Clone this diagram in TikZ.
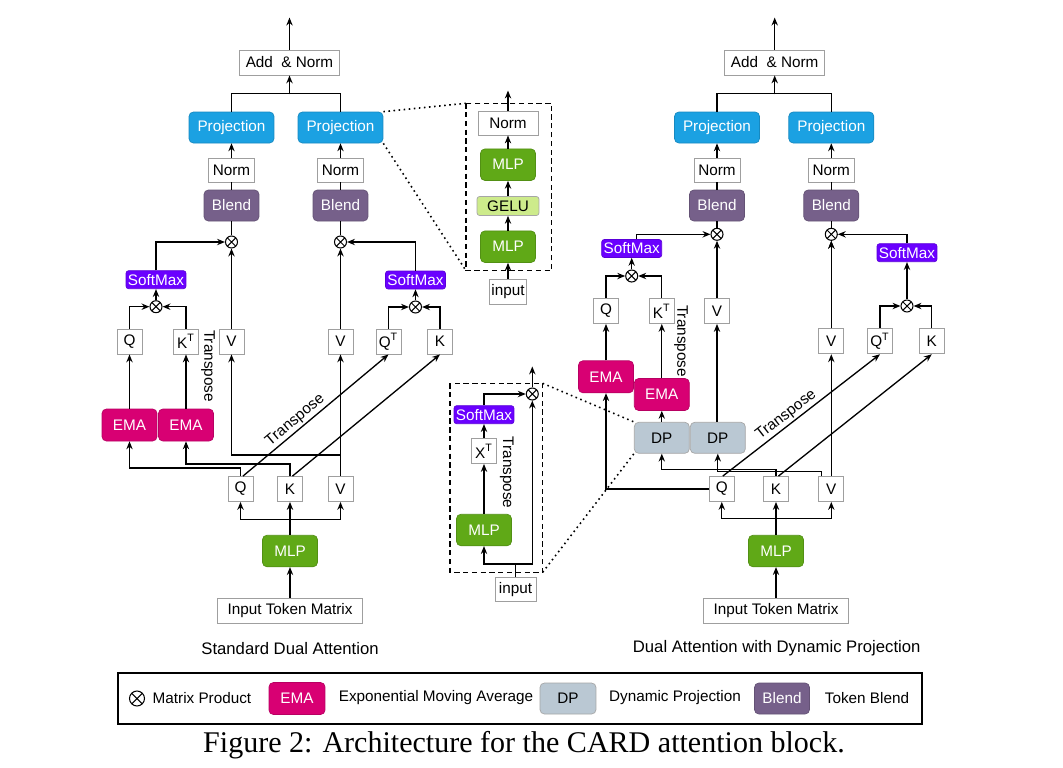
\documentclass[tikz,border=0pt]{standalone}
\usepackage{fontspec}
\setmainfont{Liberation Serif}
\setsansfont{Liberation Sans}
\usetikzlibrary{arrows.meta,shadows}
\definecolor{projblue}{HTML}{1BA1E2}
\definecolor{emapink}{HTML}{D80073}
\definecolor{smaxviolet}{HTML}{6A00FF}
\definecolor{mlpgreen}{HTML}{60A917}
\definecolor{blendmauve}{HTML}{76608A}
\definecolor{dpgrey}{HTML}{BAC8D3}
\definecolor{gelugreen}{HTML}{CDEB8B}
\newcommand{\diagfont}{\sffamily\fontsize{8.7}{10}\selectfont}
\tikzset{plainbox/.style={
  draw=gray!75,
  fill=white,
  line width=0.5pt,
  minimum width=0.5cm,
  minimum height=0.5cm,
  inner sep=0pt,
  font=\diagfont,
  },
  colbox/.style={
  rounded corners=2.5pt,
  line width=0.4pt,
  inner sep=0pt,
  minimum width=1.1cm,
  minimum height=0.62cm,
  text=white,
  font=\diagfont,
  },
  projbox/.style={colbox, fill=projblue, draw=projblue!85!black, minimum width=1.7cm},
  blendbox/.style={colbox, fill=blendmauve, draw=blendmauve!85!black},
  emabox/.style={colbox, fill=emapink, draw=emapink!85!black, minimum height=0.64cm},
  dpbox/.style={colbox, fill=dpgrey, draw=gray!70, text=black},
  mlpbox/.style={colbox, fill=mlpgreen, draw=mlpgreen!85!black, minimum height=0.63cm},
  smaxbox/.style={colbox, rounded corners=1.5pt, fill=smaxviolet, draw=smaxviolet!85!black,
    minimum width=1.2cm, minimum height=0.36cm},
  gelubox/.style={colbox, rounded corners=1.5pt, fill=gelugreen, draw=gray!70, text=black,
    minimum width=1.24cm, minimum height=0.38cm},
  prod/.style={
  circle,
  draw,
  fill=white,
  line width=0.6pt,
  minimum size=0.24cm,
  inner sep=0pt,
  path picture={\draw (path picture bounding box.north west) -- (path picture bounding box.south east)
    (path picture bounding box.north east) -- (path picture bounding box.south west);},
  },
  arr/.style={-{Stealth[length=4.5pt,width=3.6pt]}},
  lbl/.style={font=\diagfont, inner sep=1pt},
  subcap/.style={font=\sffamily\fontsize{9.5}{11}\selectfont, inner sep=1pt},
  }

\begin{document}
\begin{tikzpicture}[x=0.02cm, y=-0.02cm, line width=0.75pt]
  \useasboundingbox (0,0) rectangle (1063,768);

  % standard dual attention
  \node[plainbox, minimum width=2cm] (Ladd) at (289.5,62.5) {Add\ \ \& Norm};
  \node[projbox] (Lp1) at (231.5,127.5) {Projection};
  \node[projbox] (Lp2) at (340.5,127.5) {Projection};
  \node[plainbox, minimum width=0.92cm, minimum height=0.48cm] (Ln1) at (231.5,170) {Norm};
  \node[plainbox, minimum width=0.92cm, minimum height=0.48cm] (Ln2) at (340.5,170) {Norm};
  \node[blendbox] (Lb1) at (231.5,205.5) {Blend};
  \node[blendbox] (Lb2) at (340.5,205.5) {Blend};
  \node[prod] (Lx1) at (231.5,242) {};
  \node[prod] (Lx2) at (340.5,242) {};
  \node[smaxbox] (Ls1) at (156,279.7) {SoftMax};
  \node[smaxbox] (Ls2) at (415.5,280) {SoftMax};
  \node[prod] (Lx3) at (156,306.7) {};
  \node[prod] (Lx4) at (415.5,307) {};
  \node[plainbox] (Lq) at (129.5,341.5) {Q};
  \node[plainbox] (Lkt) at (186,341.5) {K\textsuperscript{T}};
  \node[plainbox] (Lv1) at (231.5,341.5) {V};
  \node[plainbox] (Lv2) at (340.5,341.5) {V};
  \node[plainbox] (Lqt) at (388.5,341.5) {Q\textsuperscript{T}};
  \node[plainbox] (Lk) at (440,341.5) {K};
  \node[lbl, rotate=-90] (Ltr) at (208,366) {Transpose};
  \node[emabox] (Le1) at (129.5,425) {EMA};
  \node[emabox] (Le2) at (186,425) {EMA};
  \node[plainbox] (LQ) at (240.5,489) {Q};
  \node[plainbox] (LK) at (290,489) {K};
  \node[plainbox] (LV) at (340.5,489) {V};
  \node[mlpbox] (Lmlp) at (290,551) {MLP};
  \node[plainbox, minimum width=2.9cm] (Lin) at (290,610.5) {Input Token Matrix};
  \node[subcap] (Lcap) at (290,649) {Standard Dual Attention};

  \draw[arr] (Ladd.north) -- ++(0,-32);
  \draw (Lp1.north) -- ++(0,-18) -| (Lp2.north);
  \draw[arr] ([yshift=-0.38cm]Ladd.south) -- (Ladd.south);
  \draw[arr] (Ln1) -- (Lp1);
  \draw[arr] (Ln2) -- (Lp2);
  \draw (Lx1) -- (Lb1) -- (Ln1);
  \draw (Lx2) -- (Lb2) -- (Ln2);
  \draw[arr] (Ls1.north) |- (Lx1);
  \draw[arr] (Ls2.north) |- (Lx2);
  \draw[arr] (Lv1) -- (Lx1);
  \draw[arr] (Lv2) -- (Lx2);
  \draw[arr] (Lx3) -- (Ls1);
  \draw[arr] (Lx4) -- (Ls2);
  \draw[arr] (Lq.north) |- (Lx3);
  \draw[arr] (Lkt.north) |- (Lx3);
  \draw[arr] (Lqt.north) |- (Lx4);
  \draw[arr] (Lk.north) |- (Lx4);
  \draw[arr] (Le1) -- (Lq);
  \draw[arr] (Le2) -- (Lkt);
  \draw[arr] (LQ.north) -- ++(0,-8) -| (Le1.south);
  \draw[arr] (LK.north) -- ++(0,-12) -| (Le2.south);
  \draw[arr] (LV.north) -- (Lv2.south);
  \draw[arr] (LV.north) ++(0,-21) -| (Lv1.south);
  \draw[arr] ([xshift=0.05cm]LQ.north) -- (Lqt.south) node[lbl, pos=0.4, sloped, above] {Transpose};
  \draw[arr] ([xshift=0.05cm]LK.north) -- (Lk.south);
  \draw (Lmlp.north) -- ++(0,-15.7) coordinate (Lmj);
  \draw[arr] (Lmj) -| (LQ.south);
  \draw[arr] (Lmj) -| (LV.south);
  \draw[arr] (Lmlp.north) -- (LK.south);
  \draw[arr] (Lin) -- (Lmlp);

  % projection detail
  \coordinate (Tnw) at (466,103.3);
  \coordinate (Tse) at (551.7,270.7);
  \draw[densely dashed, line width=0.9pt] (Tnw) rectangle (Tse);
  \draw[dotted, line width=0.9pt] (Lp2.north east) -- (Tnw);
  \draw[dotted, line width=0.9pt] (Lp2.south east) -- (Tnw |- Tse);
  \node[plainbox, minimum width=1.2cm, minimum height=0.48cm] (Tnorm) at (508,123) {Norm};
  \node[mlpbox] (Tm2) at (508,164.7) {MLP};
  \node[gelubox] (Tg) at (508,206) {GELU};
  \node[mlpbox] (Tm1) at (508,246.7) {MLP};
  \node[plainbox, minimum width=0.74cm] (Tin) at (508,291.5) {input};
  \draw[arr] (Tin) -- (Tm1);
  \draw[arr] (Tm1) -- (Tg);
  \draw[arr] (Tg) -- (Tm2);
  \draw[arr] (Tm2) -- (Tnorm);
  \draw[arr] (Tnorm.north) -- ++(0,-20);

  % dynamic projection detail
  \coordinate (Bnw) at (450,383.3);
  \coordinate (Bse) at (542.7,572.3);
  \draw[densely dashed, line width=0.9pt] (Bnw) rectangle (Bse);
  \node[smaxbox] (Bs) at (484,414.7) {SoftMax};
  \node[plainbox] (Bxt) at (484,451) {X\textsuperscript{T}};
  \node[mlpbox] (Bm) at (484,530) {MLP};
  \node[plainbox, minimum width=0.82cm, minimum height=0.48cm] (Bin) at (515.5,589.5) {input};
  \node[prod] (Bx) at (532.3,394) {};
  \node[lbl, rotate=-90] (Btr) at (506.7,472.5) {Transpose};
  \draw (Bin.north) -- ++(0,-13) coordinate (Bj);
  \draw[arr] (Bj) -| (Bm.south);
  \draw[arr] (Bj) -| (Bx.south);
  \draw[arr] (Bm) -- (Bxt);
  \draw[arr] (Bxt) -- (Bs);
  \draw[arr] (Bs.north) |- (Bx);
  \draw[arr] (Bx.north) -- ++(0,-21);

  % dual attention with dynamic projection
  \node[plainbox, minimum width=2cm] (Radd) at (774.7,62.5) {Add\ \ \& Norm};
  \node[projbox] (Rp1) at (717,127.5) {Projection};
  \node[projbox] (Rp2) at (831.3,127.5) {Projection};
  \node[plainbox, minimum width=0.92cm, minimum height=0.48cm] (Rn1) at (717,170) {Norm};
  \node[plainbox, minimum width=0.92cm, minimum height=0.48cm] (Rn2) at (831.3,170) {Norm};
  \node[blendbox] (Rb1) at (717,205.5) {Blend};
  \node[blendbox] (Rb2) at (831.3,205.5) {Blend};
  \node[prod] (Rx1) at (717,234.3) {};
  \node[prod] (Rx2) at (831.3,234.3) {};
  \node[smaxbox] (Rs1) at (631.7,248.5) {SoftMax};
  \node[smaxbox] (Rs2) at (907,252.7) {SoftMax};
  \node[prod] (Rx3) at (631.7,276) {};
  \node[prod] (Rx4) at (907,306) {};
  \node[plainbox] (Rq) at (606,311) {Q};
  \node[plainbox] (Rkt) at (661.8,311) {K\textsuperscript{T}};
  \node[plainbox] (Rv1) at (717,311) {V};
  \node[lbl, rotate=-90] (Rtr) at (681,341) {Transpose};
  \node[plainbox] (Rv2) at (831.3,341.3) {V};
  \node[plainbox] (Rqt) at (880,341.3) {Q\textsuperscript{T}};
  \node[plainbox] (Rk) at (931.8,341.3) {K};
  \node[emabox] (Re1) at (606,376.8) {EMA};
  \node[emabox] (Re2) at (661.8,394.5) {EMA};
  \node[dpbox] (Rd1) at (661.8,437.8) {DP};
  \node[dpbox] (Rd2) at (717.8,437.8) {DP};
  \node[plainbox] (RQ) at (721.8,489) {Q};
  \node[plainbox] (RK) at (776,489) {K};
  \node[plainbox] (RV) at (831.3,489) {V};
  \node[mlpbox] (Rmlp) at (776,551) {MLP};
  \node[plainbox, minimum width=2.9cm] (Rin) at (776,610.8) {Input Token Matrix};
  \node[subcap] (Rcap) at (776.7,648.3) {Dual Attention with Dynamic Projection};

  \draw[dotted, line width=0.9pt] (Bnw -| Bse) -- (Rd1.north west);
  \draw[dotted, line width=0.9pt] (Bse) -- (Rd1.south west);

  \draw[arr] (Radd.north) -- ++(0,-32);
  \draw (Rp1.north) -- ++(0,-18) -| (Rp2.north);
  \draw[arr] ([yshift=-0.38cm]Radd.south) -- (Radd.south);
  \draw[arr] (Rn1) -- (Rp1);
  \draw[arr] (Rn2) -- (Rp2);
  \draw (Rx1) -- (Rb1) -- (Rn1);
  \draw (Rx2) -- (Rb2) -- (Rn2);
  \draw[arr] ([xshift=0.1cm]Rs1.north) |- (Rx1);
  \draw[arr] (Rs2.north) |- (Rx2);
  \draw[arr] (Rv1) -- (Rx1);
  \draw[arr] (Rv2) -- (Rx2);
  \draw[arr] (Rx3) -- (Rs1);
  \draw[arr] (Rx4) -- (Rs2);
  \draw[arr] (Rq.north) |- (Rx3);
  \draw[arr] (Rkt.north) |- (Rx3);
  \draw[arr] (Rqt.north) |- (Rx4);
  \draw[arr] (Rk.north) |- (Rx4);
  \draw[arr] (Re1) -- (Rq);
  \draw[arr] (Re2) -- (Rkt);
  \draw[arr] (Rd1) -- (Re2);
  \draw[arr] (Rd2.north -| Rv1) -- (Rv1);
  \draw[arr] (RQ.west) -| (Re1.south);
  \draw[arr] (RK.north) -- ++(0,-6.7) -| (Rd1.south);
  \draw[arr] ([xshift=-0.2cm]RV.north) -- ++(0,-4.3) -| (Rd2.south);
  \draw[arr] (RV.north) -- (Rv2.south);
  \draw[arr] (Rv2.north) -- (Rx2);
  \draw[arr] ([xshift=0.02cm]RQ.north) -- (Rqt.south) node[lbl, pos=0.44, sloped, above] {Transpose};
  \draw[arr] ([xshift=0.05cm]RK.north) -- (Rk.south);
  \draw (Rmlp.north) -- ++(0,-16.7) coordinate (Rmj);
  \draw[arr] (Rmj) -| (RQ.south);
  \draw[arr] (Rmj) -| (RV.south);
  \draw[arr] (Rmlp.north) -- (RK.south);
  \draw[arr] (Rin) -- (Rmlp);

  % legend
  \draw[line width=0.6pt, drop shadow={shadow xshift=0.6pt, shadow yshift=-0.8pt, fill=black, opacity=1}, fill=white]
    (118,673) rectangle (922,724);
  \node[prod, minimum size=0.3cm] (Gx) at (137,698.5) {};
  \node[lbl, right=3pt] (Gxt) at (Gx.east) {Matrix Product};
  \node[emabox, minimum width=1.12cm] (Ge) at (297,698.5) {EMA};
  \node[lbl] (Get) at (436,698) {Exponential Moving Average};
  \node[dpbox, minimum width=1.12cm] (Gd) at (568,698.5) {DP};
  \node[lbl] (Gdt) at (675,698) {Dynamic Projection};
  \node[blendbox] (Gb) at (782,698.5) {Blend};
  \node[lbl] (Gbt) at (867,698) {Token Blend};

  \node[font=\fontsize{17.1}{20}\selectfont] (cap) at (524,745) {Figure 2: Architecture for the CARD attention block.};
\end{tikzpicture}
\end{document}
